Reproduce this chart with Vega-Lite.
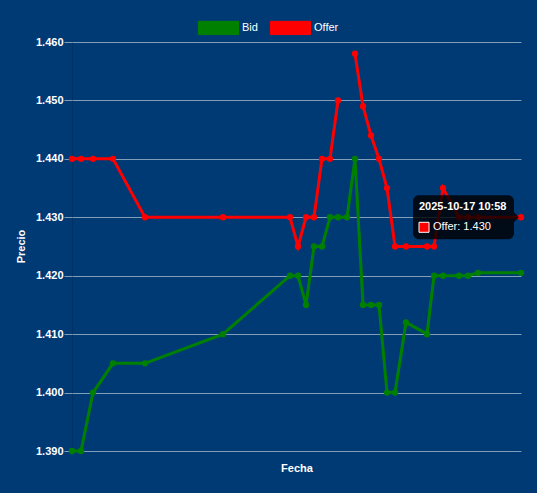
{
  "$schema": "https://vega.github.io/schema/vega-lite/v6.json",
  "width": 449,
  "height": 409,
  "autosize": {"type": "none"},
  "padding": {"left": 72, "top": 42, "right": 16, "bottom": 42},
  "background": "#003a75",
  "config": {
    "view": {"stroke": null},
    "font": "Liberation Sans",
    "legend": {
      "labelColor": "#ffffff",
      "labelFont": "Liberation Sans",
      "labelFontSize": 11,
      "labelFontWeight": "normal"
    }
  },
  "datasets": {
    "precios": [
      {"fecha": "2025-08-22T08:00", "Bid": 1.390, "Offer": 1.440},
      {"fecha": "2025-08-23T11:00", "Bid": 1.390, "Offer": 1.440},
      {"fecha": "2025-08-24T23:00", "Bid": 1.400, "Offer": 1.440},
      {"fecha": "2025-08-27T11:00", "Bid": 1.405, "Offer": 1.440},
      {"fecha": "2025-08-31T11:00", "Bid": 1.405, "Offer": 1.430},
      {"fecha": "2025-09-10T05:00", "Bid": 1.410, "Offer": 1.430},
      {"fecha": "2025-09-18T14:00", "Bid": 1.420, "Offer": 1.430},
      {"fecha": "2025-09-19T14:00", "Bid": 1.420, "Offer": 1.425},
      {"fecha": "2025-09-20T14:00", "Bid": 1.415, "Offer": 1.430},
      {"fecha": "2025-09-21T14:00", "Bid": 1.425, "Offer": 1.430},
      {"fecha": "2025-09-22T14:00", "Bid": 1.425, "Offer": 1.440},
      {"fecha": "2025-09-23T14:00", "Bid": 1.430, "Offer": 1.440},
      {"fecha": "2025-09-24T14:00", "Bid": 1.430, "Offer": 1.450},
      {"fecha": "2025-09-25T17:00", "Bid": 1.430, "Offer": null},
      {"fecha": "2025-09-26T17:00", "Bid": 1.440, "Offer": 1.458},
      {"fecha": "2025-09-27T17:00", "Bid": 1.415, "Offer": 1.449},
      {"fecha": "2025-09-28T17:00", "Bid": 1.415, "Offer": 1.444},
      {"fecha": "2025-09-29T17:00", "Bid": 1.415, "Offer": 1.440},
      {"fecha": "2025-09-30T17:00", "Bid": 1.400, "Offer": 1.435},
      {"fecha": "2025-10-01T17:00", "Bid": 1.400, "Offer": 1.425},
      {"fecha": "2025-10-03T02:00", "Bid": 1.412, "Offer": 1.425},
      {"fecha": "2025-10-05T17:00", "Bid": 1.410, "Offer": 1.425},
      {"fecha": "2025-10-06T14:00", "Bid": 1.420, "Offer": 1.425},
      {"fecha": "2025-10-07T17:00", "Bid": 1.420, "Offer": 1.435},
      {"fecha": "2025-10-09T17:00", "Bid": 1.420, "Offer": 1.430},
      {"fecha": "2025-10-10T20:00", "Bid": 1.420, "Offer": 1.430},
      {"fecha": "2025-10-12T02:00", "Bid": 1.4205, "Offer": 1.430},
      {"fecha": "2025-10-17T10:58", "Bid": 1.4205, "Offer": 1.430}
    ],
    "tooltip": [
      {"fecha": "2025-10-17T10:58", "precio": 1.430, "titulo": "2025-10-17 10:58", "cuerpo": "Offer: 1.430"}
    ]
  },
  "layer": [
    {
      "data": {"name": "precios"},
      "transform": [{"fold": ["Bid", "Offer"], "as": ["serie", "precio"]}],
      "encoding": {
        "x": {
          "field": "fecha",
          "type": "temporal",
          "scale": {"nice": false, "padding": 0},
          "axis": {
            "title": "Fecha",
            "labels": false,
            "ticks": false,
            "grid": false,
            "domain": false,
            "titleColor": "#ffffff",
            "titleFont": "Liberation Sans",
            "titleFontSize": 11,
            "titleFontWeight": "bold",
            "titlePadding": 11
          }
        },
        "y": {
          "field": "precio",
          "type": "quantitative",
          "scale": {"domain": [1.39, 1.46], "nice": false, "zero": false},
          "axis": {
            "title": "Precio",
            "values": [1.39, 1.40, 1.41, 1.42, 1.43, 1.44, 1.45, 1.46],
            "format": ".3f",
            "labelColor": "#ffffff",
            "labelFont": "Liberation Sans",
            "labelFontSize": 11,
            "labelFontWeight": "bold",
            "labelPadding": 1,
            "tickSize": 8,
            "tickColor": "#ffffff",
            "tickOpacity": 0.5,
            "gridColor": "#ffffff",
            "gridOpacity": 0.5,
            "domainColor": "#000000",
            "domainOpacity": 0.15,
            "titleColor": "#ffffff",
            "titleFont": "Liberation Sans",
            "titleFontSize": 11,
            "titleFontWeight": "bold",
            "titleAngle": -90,
            "titleX": -51,
            "titleY": 204,
            "titleBaseline": "middle",
            "titleAlign": "center"
          }
        },
        "color": {
          "field": "serie",
          "type": "nominal",
          "scale": {"domain": ["Bid", "Offer"], "range": ["green", "red"]},
          "legend": {
            "title": null,
            "orient": "none",
            "direction": "horizontal",
            "legendX": 126,
            "legendY": -35,
            "symbolType": "M-1,-0.33H1V0.33H-1Z",
            "symbolSize": 1600,
            "symbolStrokeWidth": 1,
            "labelOffset": 3,
            "columnPadding": 10,
            "encode": {
              "symbols": {
                "update": {
                  "fill": {"scale": "color", "field": "value"},
                  "stroke": {"scale": "color", "field": "value"},
                  "opacity": {"value": 1},
                  "fillOpacity": {"value": 1}
                }
              }
            }
          }
        }
      },
      "layer": [
        {"mark": {"type": "line", "strokeWidth": 3, "invalid": "break-paths-filter-domains"}},
        {"mark": {"type": "point", "filled": true, "size": 40, "opacity": 1}}
      ]
    },
    {
      "data": {"name": "tooltip"},
      "encoding": {
        "x": {"field": "fecha", "type": "temporal"},
        "y": {"field": "precio", "type": "quantitative"}
      },
      "layer": [
        {
          "mark": {"type": "rect", "fill": "#000000", "fillOpacity": 0.8, "cornerRadius": 6, "xOffset": -108, "x2Offset": -7, "yOffset": -22, "y2Offset": 22},
          "encoding": {
            "x2": {"field": "fecha"},
            "y2": {"field": "precio"}
          }
        },
        {
          "mark": {"type": "point", "shape": "M-1,-1L0,0L-1,1Z", "size": 100, "filled": true, "fill": "#000000", "opacity": 0.8, "xOffset": -2}
        },
        {
          "mark": {"type": "point", "shape": "square", "size": 100, "filled": true, "fill": "red", "stroke": "#ffffff", "strokeWidth": 1, "opacity": 1, "xOffset": -97, "yOffset": 10}
        },
        {
          "mark": {"type": "text", "align": "left", "baseline": "middle", "dx": -102, "dy": -10, "fontSize": 11, "fontWeight": "bold", "fill": "#ffffff", "font": "Liberation Sans"},
          "encoding": {"text": {"field": "titulo"}}
        },
        {
          "mark": {"type": "text", "align": "left", "baseline": "middle", "dx": -88, "dy": 10, "fontSize": 11, "fontWeight": "normal", "fill": "#ffffff", "font": "Liberation Sans"},
          "encoding": {"text": {"field": "cuerpo"}}
        }
      ]
    }
  ]
}
